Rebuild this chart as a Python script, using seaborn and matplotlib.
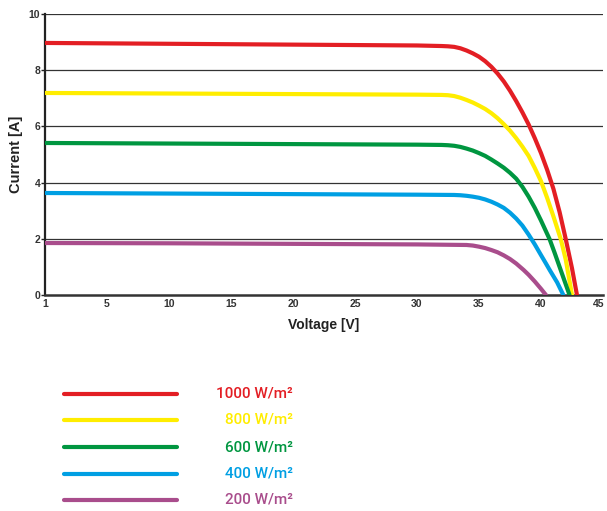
import pandas as pd
import numpy as np
import matplotlib.pyplot as plt
import matplotlib.transforms as mtransforms
import seaborn as sns

# I-V curves (voltage in V, current in A)
v_1000 = [0, 10, 20, 30, 32, 32.5, 33, 33.5, 34, 34.5, 35, 35.5, 36, 36.5, 37, 37.5, 38, 38.5,
          39, 39.5, 40, 40.5, 41, 41.5, 42, 42.5, 42.9]
i_1000 = [8.97, 8.94, 8.91, 8.88, 8.86, 8.85, 8.83, 8.78, 8.70, 8.60, 8.48, 8.32, 8.12, 7.88,
          7.60, 7.27, 6.90, 6.50, 6.07, 5.58, 5.05, 4.45, 3.78, 2.95, 1.98, 0.95, 0.0]

v_800 = [0, 10, 20, 30, 32, 32.5, 33, 33.5, 34, 34.5, 35, 35.5, 36, 36.5, 37, 37.5, 38, 38.5,
         39, 39.5, 40, 40.5, 41, 41.6, 42, 42.5]
i_800 = [7.19, 7.17, 7.15, 7.13, 7.12, 7.11, 7.08, 7.02, 6.94, 6.85, 6.74, 6.62, 6.47, 6.29,
         6.08, 5.85, 5.58, 5.28, 4.95, 4.52, 4.05, 3.45, 2.80, 1.98, 1.25, 0.0]

v_600 = [0, 10, 20, 30, 32, 32.5, 33, 33.5, 34, 34.5, 35, 35.5, 36, 36.5, 37, 37.5, 38, 38.5,
         39, 39.5, 40, 40.7, 41.1, 41.5, 41.9, 42.3]
i_600 = [5.41, 5.39, 5.37, 5.35, 5.34, 5.33, 5.31, 5.27, 5.21, 5.14, 5.05, 4.95, 4.82, 4.68,
         4.53, 4.35, 4.14, 3.85, 3.50, 3.10, 2.65, 1.98, 1.50, 1.00, 0.50, 0.0]

v_400 = [0, 10, 20, 30, 33, 33.5, 34, 34.5, 35, 35.5, 36, 36.5, 37, 37.5, 38, 38.5, 39, 39.5,
         40, 40.4, 40.7, 41.3, 41.8]
i_400 = [3.63, 3.61, 3.59, 3.57, 3.56, 3.55, 3.53, 3.50, 3.46, 3.40, 3.32, 3.22, 3.10, 2.93,
         2.72, 2.47, 2.15, 1.80, 1.42, 1.12, 0.89, 0.45, 0.0]

v_200 = [0, 10, 20, 30, 34, 34.5, 35, 35.5, 36, 36.5, 37, 37.5, 38, 38.6, 39, 39.5, 40, 40.4]
i_200 = [1.85, 1.84, 1.82, 1.80, 1.78, 1.76, 1.72, 1.67, 1.60, 1.52, 1.41, 1.28, 1.12, 0.89,
         0.72, 0.48, 0.22, 0.0]

labels = ['1000 W/m²', '800 W/m²', '600 W/m²', '400 W/m²', '200 W/m²']
colors = ['#e31e24', '#ffed00', '#009640', '#009fe3', '#a94d8c']

x_ticks = [0, 5, 10, 15, 20, 25, 30, 35, 40, 45]
x_tick_labels = ['1', '5', '10', '15', '20', '25', '30', '35', '40', '45']
y_ticks = [0, 2, 4, 6, 8, 10]

curves = [(v_1000, i_1000), (v_800, i_800), (v_600, i_600), (v_400, i_400), (v_200, i_200)]
df = pd.concat([
    pd.DataFrame({'voltage': v, 'current': i, 'irr': lab})
    for (v, i), lab in zip(curves, labels)
], ignore_index=True)

sns.set_theme(style='white')
plt.rcParams['font.family'] = ['Liberation Sans', 'DejaVu Sans']

fig = plt.figure(figsize=(6.07, 5.11), dpi=100)
ax = fig.add_axes([45 / 607, 216 / 511, 558 / 607, 281 / 511])

for y in y_ticks[1:]:
    ax.axhline(y, color='#333333', lw=0.9, zorder=1)

sns.lineplot(data=df, x='voltage', y='current', hue='irr', palette=colors,
             hue_order=labels, linewidth=3, legend=False, ax=ax, zorder=3)

ax.set_xlim(0, 45)
ax.set_ylim(0, 10)
ax.set_xticks(x_ticks)
ax.set_xticklabels(x_tick_labels)
ax.set_yticks(y_ticks)
ax.tick_params(axis='x', labelsize=7.5, length=0, pad=3)
ax.tick_params(axis='y', labelsize=7.5, length=3, width=1, color='#222222',
               direction='out', pad=0.5, left=True)
for lab in ax.get_xticklabels() + ax.get_yticklabels():
    lab.set_fontweight('bold')
    lab.set_color('#333333')
# keep the last x label inside the canvas
last = ax.get_xticklabels()[-1]
last.set_transform(last.get_transform() +
                   mtransforms.ScaledTranslation(-4 / 100, 0, fig.dpi_scale_trans))

for side in ['top', 'right']:
    ax.spines[side].set_visible(False)
ax.spines['left'].set_color('#222222')
ax.spines['left'].set_linewidth(1.6)
ax.spines['bottom'].set_color('#333333')
ax.spines['bottom'].set_linewidth(1.8)

ax.set_xlabel('Voltage [V]', fontsize=10, fontweight='bold', color='#222222', labelpad=6)
ax.set_ylabel('Current [A]', fontsize=10.5, fontweight='bold', color='#222222', labelpad=4)

# legend drawn as lines plus right-aligned coloured text
leg = fig.add_axes([0, 0, 1, 1], facecolor='none')
leg.set_xlim(0, 607)
leg.set_ylim(511, 0)
leg.axis('off')
leg_y = [394, 420, 447, 474, 500]
for yy, lab, col in zip(leg_y, labels, colors):
    leg.plot([64, 177], [yy, yy], color=col, lw=3, solid_capstyle='round')
    leg.text(293, yy, lab, color=col, fontsize=11, ha='right', va='center',
             fontweight='medium', family=['Roboto', 'DejaVu Sans'])

fig.savefig('out.png', dpi=100)
